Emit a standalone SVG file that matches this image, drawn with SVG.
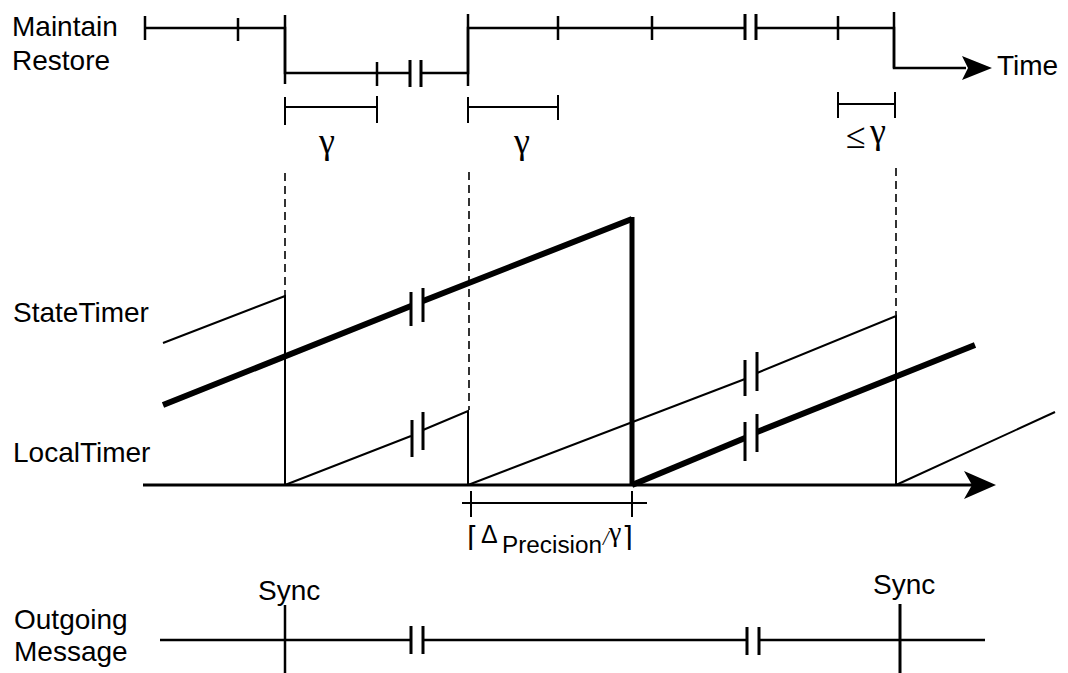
<svg xmlns="http://www.w3.org/2000/svg" width="1068" height="673" viewBox="0 0 1068 673">
<style>
.lbl{font-family:"Liberation Sans",Arial,Helvetica,sans-serif;font-size:28px;fill:#000}
.gr{font-family:"Liberation Serif","DejaVu Serif",serif;font-size:36px;fill:#000}
.ln{stroke:#000;stroke-width:2.5;fill:none}
.thin{stroke:#000;stroke-width:2;fill:none}
.thick{stroke:#000;stroke-width:6;fill:none;stroke-linejoin:miter}
.brk{stroke:#000;stroke-width:3;fill:none}
.dash{stroke:#000;stroke-width:1.6;fill:none;stroke-dasharray:8 5}
</style>
<rect width="1068" height="673" fill="#fff"/>

<g id="labels">
<text class="lbl" x="12" y="36">Maintain</text>
<text class="lbl" x="12" y="70">Restore</text>
<text class="lbl" x="997" y="75">Time</text>
<text class="lbl" x="13" y="322">StateTimer</text>
<text class="lbl" x="13" y="462">LocalTimer</text>
<text class="lbl" x="14" y="629">Outgoing</text>
<text class="lbl" x="14" y="661">Message</text>
</g>

<g id="mode-timeline">
<path class="ln" d="M145,28 H285 V73 H410 M421,73 H468 V28 H745 M756,28 H894 V68 H966"/>
<path class="ln" d="M145,16 V40 M238,18 V41 M377,62 V86 M558,16 V40 M652,16 V40 M838,16 V40 M285,15 V84 M468,14 V86 M894,12 V68"/>
<path class="brk" d="M410,60 V87 M421,60 V87 M745,14 V40 M756,14 V40"/>
<polygon points="992,68 962,56 968,68 962,80" fill="#000"/>
</g>

<g id="gamma-intervals">
<path class="thin" d="M285,107 H377 M285,97 V125 M377,96 V123"/>
<path class="thin" d="M468,107 H558 M468,97 V123 M558,95 V120"/>
<path class="thin" d="M838,104 H895 M838,92 V118 M895,92 V118"/>
<text class="gr" x="327" y="153" text-anchor="middle">γ</text>
<text class="gr" x="522" y="153" text-anchor="middle">γ</text>
<text class="gr" x="846" y="148" font-size="28">≤</text>
<text class="gr" x="870" y="143">γ</text>
</g>

<g id="guides">
<path class="dash" d="M285,173 V296"/>
<path class="dash" d="M469,172 V410"/>
<path class="dash" d="M896,168 V315"/>
</g>

<g id="state-timer">
<path class="thin" d="M163,343 L285,296 V485"/>
<path class="thick" d="M163,405 L411,306 M423,301 L632,219"/>
<path stroke="#000" stroke-width="5" fill="none" d="M632,217 V485"/>
<path class="brk" d="M411,292 V326 M423,288 V322"/>
<path class="thin" d="M757,373 L896,316 V485"/>
<path class="thick" d="M757,432 L975,345"/>
</g>

<g id="local-timer">
<path class="thin" d="M285,485 L411,436 M423,430 L468,411 V485"/>
<path class="brk" d="M412,420 V457 M423,412 V450"/>
<path class="thin" d="M468,485 L745,379"/>
<path class="brk" d="M745,360 V396 M757,352 V391"/>
<path class="thick" d="M632,485 L745,438"/>
<path class="brk" stroke-width="3.5" d="M745,422 V461 M757,414 V452"/>
<path class="thin" d="M896,485 L1055,412"/>
</g>

<g id="time-axis">
<path stroke="#000" stroke-width="3" fill="none" d="M143,485 H975"/>
<polygon points="996,485 964,471 972,485 964,499" fill="#000"/>
</g>

<g id="precision-interval">
<path class="thin" d="M462,503 H647 M471,491 V517 M632,491 V517"/>
<text y="546" fill="#000" font-family="'DejaVu Sans',sans-serif" font-size="28"><tspan x="467">⌈</tspan><tspan x="481" y="543" font-size="25" font-family="'Liberation Sans',Arial,sans-serif">Δ</tspan><tspan x="502" y="553" font-family="'Liberation Sans',Arial,sans-serif" font-size="23" textLength="100" lengthAdjust="spacingAndGlyphs">Precision</tspan><tspan x="603" y="545" font-family="'Liberation Serif',serif" font-size="20" font-style="italic">/</tspan><tspan x="609" y="541" font-family="'Liberation Serif',serif" font-size="28">γ</tspan><tspan x="622" y="546" font-size="28">⌉</tspan></text>
</g>

<g id="outgoing-message">
<path class="ln" d="M160,640 H411 M423,640 H747 M759,640 H985"/>
<path class="brk" d="M411,626 V654 M423,626 V654 M747,627 V655 M759,627 V655"/>
<path class="ln" d="M285,605 V673"/>
<path class="brk" d="M900,604 V673"/>
<text class="lbl" x="258" y="600" font-size="25">Sync</text>
<text class="lbl" x="873" y="594" font-size="25">Sync</text>
</g>
</svg>
